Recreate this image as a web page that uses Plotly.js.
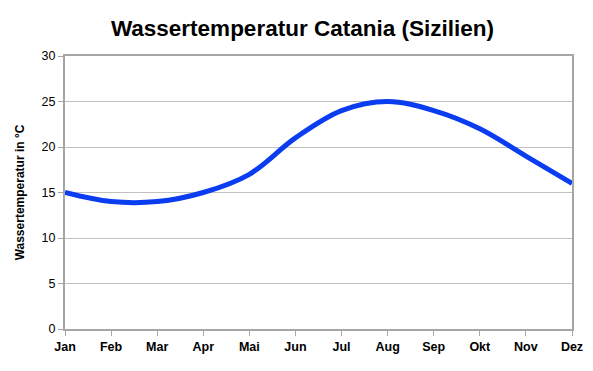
<!DOCTYPE html>
<html><head><meta charset="utf-8">
<script src="https://cdn.plot.ly/plotly-3.0.1.min.js"></script>
<style>html,body{margin:0;padding:0;background:#fff}#c{width:593px;height:371px}</style>
</head><body><div id="c"></div>
<script>
var months = ["Jan","Feb","Mar","Apr","Mai","Jun","Jul","Aug","Sep","Okt","Nov","Dez"];
var temps = [15, 14, 14, 15, 17, 21, 24, 25, 24, 22, 19, 16];
var yTicks = [0, 5, 10, 15, 20, 25, 30];

var font = "Liberation Sans, Arial, sans-serif";
Plotly.newPlot("c", [{
  x: months, y: temps, type: "scatter", mode: "lines",
  line: {color: "#0a3cf0", width: 5, shape: "spline", smoothing: 1.0},
  hoverinfo: "none"
}], {
  width: 593, height: 371,
  margin: {l: 65, r: 21, t: 56, b: 42},
  paper_bgcolor: "#fff", plot_bgcolor: "#fff",
  showlegend: false,
  title: {text: "<b>Wassertemperatur Catania (Sizilien)</b>", font: {family: font, size: 22.5, color: "#000"}, x: 0.51, xanchor: "center", y: 0.925, yanchor: "middle"},
  xaxis: {
    type: "category", range: [0, 11], showgrid: false,
    showline: true, linecolor: "#a6a6a6", linewidth: 2, mirror: true,
    ticks: "outside", ticklen: 5, tickcolor: "#a6a6a6", tickwidth: 1,
    tickfont: {family: font, size: 12.5, color: "#000"},
    tickprefix: "<b>", ticksuffix: "</b>", fixedrange: true
  },
  yaxis: {
    range: [0, 30], tickvals: yTicks, showgrid: true, gridcolor: "#c0c0c0", gridwidth: 1,
    showline: true, linecolor: "#a6a6a6", linewidth: 2, mirror: true,
    ticks: "outside", ticklen: 5, tickcolor: "#a6a6a6", tickwidth: 1,
    tickfont: {family: font, size: 12.5, color: "#000"},
    tickprefix: "<b>", ticksuffix: "</b>", zeroline: false,
    title: {text: "<b>Wassertemperatur in °C</b>", font: {family: font, size: 12, color: "#000"}, standoff: 14},
    fixedrange: true
  }
}, {staticPlot: true});
</script></body></html>
